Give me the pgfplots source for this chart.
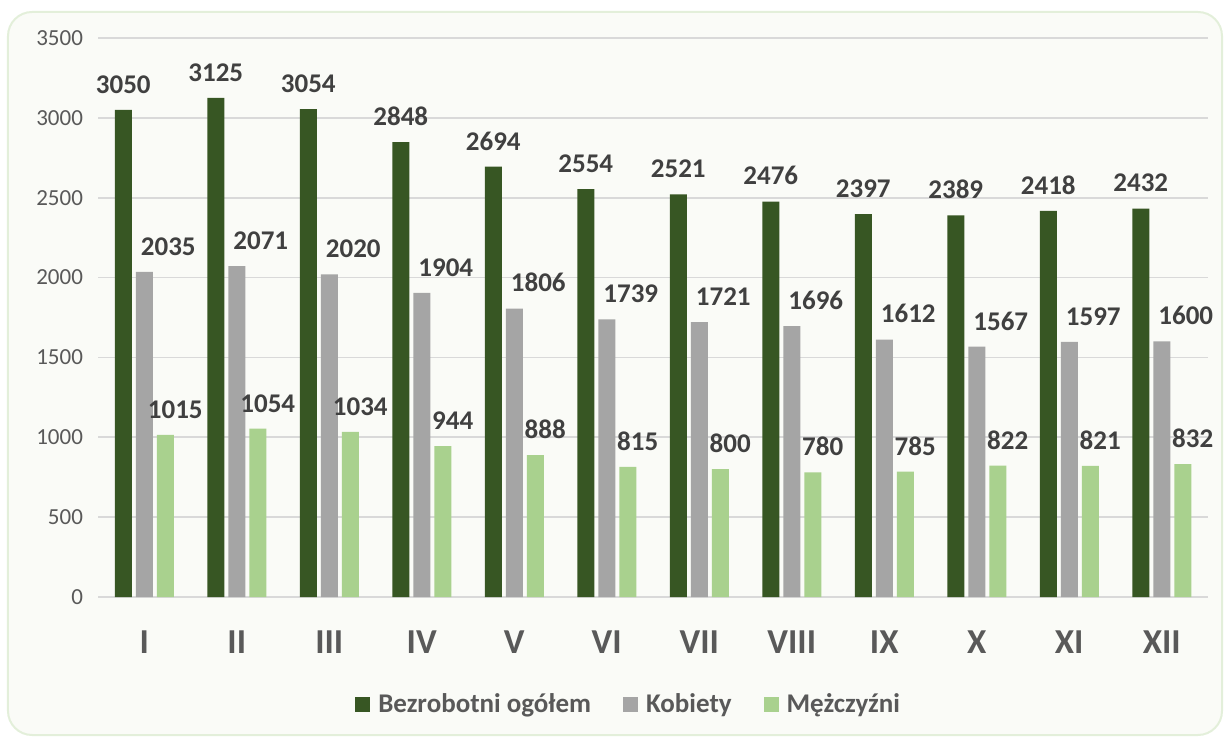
\documentclass[border=0pt]{standalone}
\usepackage{pgfplots}
\pgfplotsset{compat=1.18}
\usepackage{fontspec}
\setmainfont{Carlito}
\definecolor{ciemny}{HTML}{375623}
\definecolor{szary}{HTML}{A5A5A5}
\definecolor{jasny}{HTML}{A9D18E}
\definecolor{tekst}{HTML}{595959}
\definecolor{etykieta}{HTML}{404040}
\definecolor{tlo}{HTML}{FAFBF7}
\definecolor{ramka}{HTML}{E3EFDA}
\begin{document}
\begin{tikzpicture}
% obszar strony i tlo wykresu
\path (-49pt,-70.5pt) rectangle (566pt,298.5pt);
\draw[ramka, fill=tlo, line width=1pt, rounded corners=12pt] (-45pt,-69pt) rectangle (562pt,292.5pt);
\begin{axis}[
    at={(0,0)}, anchor=south west,
    scale only axis,
    width=555pt, height=279.5pt,
    ybar=2pt, bar width=8.5pt,
    xmin=-0.5, xmax=11.5,
    ymin=0, ymax=3500,
    ytick distance=500,
    xtick=data,
    xticklabels={I,II,III,IV,V,VI,VII,VIII,IX,X,XI,XII},
    axis line style={draw=none},
    tick style={draw=none},
    ymajorgrids=true,
    major grid style={draw=black!15, line width=0.8pt},
    /pgf/number format/assume math mode=true,
    /pgf/number format/1000 sep={},
    yticklabel style={font=\fontsize{11.5pt}{12pt}\selectfont, text=tekst, xshift=-4pt},
    xticklabel style={font=\bfseries\fontsize{17.5pt}{19pt}\selectfont, text=tekst, yshift=-9pt},
    nodes near coords,
    every node near coord/.append style={font=\bfseries\fontsize{13.5pt}{14pt}\selectfont,
        text=etykieta, anchor=south, inner sep=0pt, yshift=8pt},
    legend style={at={(0.479,-0.193)}, anchor=center, draw=none, fill=none,
        legend columns=-1, font=\bfseries\fontsize{13.5pt}{14pt}\selectfont, text=tekst,
        /tikz/every odd column/.append style={column sep=2pt},
        /tikz/every even column/.append style={column sep=14pt}},
    legend image code/.code={\fill[#1, draw=none] (0pt,-3.75pt) rectangle (7.5pt,3.75pt);},
]
\addplot[fill=ciemny, draw=none] coordinates {
(0,3050) (1,3125) (2,3054) (3,2848) (4,2694) (5,2554)
(6,2521) (7,2476) (8,2397) (9,2389) (10,2418) (11,2432)};
\addplot[fill=szary, draw=none, every node near coord/.append style={xshift=12pt}] coordinates {
(0,2035) (1,2071) (2,2020) (3,1904) (4,1806) (5,1739)
(6,1721) (7,1696) (8,1612) (9,1567) (10,1597) (11,1600)};
\addplot[fill=jasny, draw=none, every node near coord/.append style={xshift=5pt}] coordinates {
(0,1015) (1,1054) (2,1034) (3,944) (4,888) (5,815)
(6,800) (7,780) (8,785) (9,822) (10,821) (11,832)};
\legend{Bezrobotni ogółem,Kobiety,Mężczyźni}
\end{axis}
\end{tikzpicture}
\end{document}
